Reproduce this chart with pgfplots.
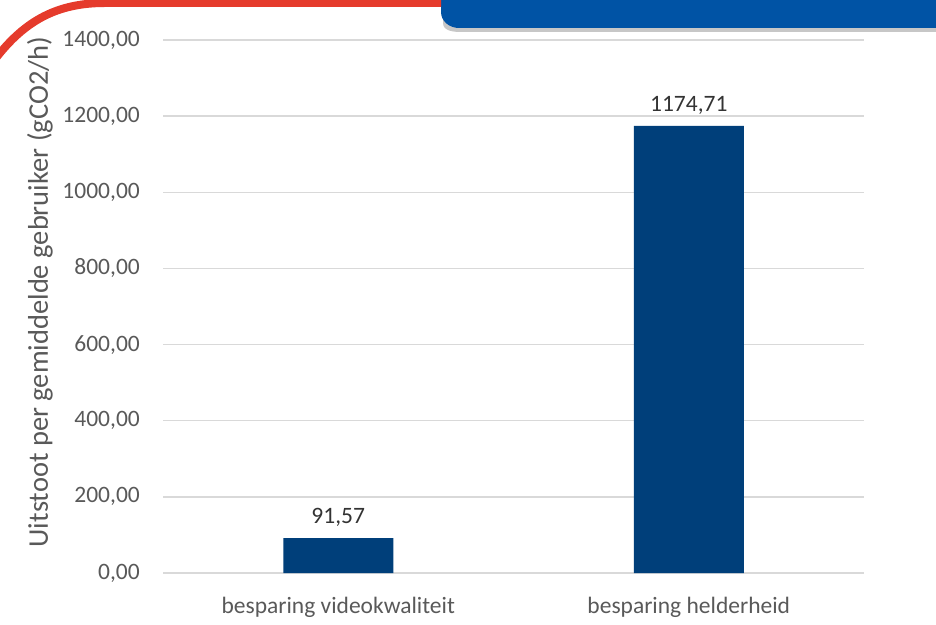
\documentclass[border=0pt]{standalone}
\usepackage{pgfplots}
\pgfplotsset{compat=1.18}
\usepackage{fontspec}
\setmainfont{Carlito}
\definecolor{txt}{HTML}{595959}
\definecolor{gridc}{HTML}{D9D9D9}
\definecolor{barc}{HTML}{003F7A}
\definecolor{redc}{HTML}{E53B2C}
\definecolor{bluec}{HTML}{0053A5}
\begin{document}
\begin{tikzpicture}
\useasboundingbox (0pt,0pt) rectangle (936pt,624pt);
% decorations
\fill[black!22] (443pt,624pt) -- (443pt,601pt) to[out=-90,in=180] (461pt,592pt) -- (936pt,592pt) -- (936pt,624pt) -- cycle;
\fill[bluec] (441pt,626pt) -- (441pt,612pt) to[out=-90,in=180] (459pt,596pt) -- (936pt,596pt) -- (936pt,626pt) -- cycle;
\draw[redc, line width=8pt] (-4pt,566pt) to[out=52,in=180] (105pt,621pt) -- (441pt,621pt);
\begin{axis}[
  at={(163pt,51pt)}, anchor=south west,
  scale only axis, width=701pt, height=533pt,
  xmin=-0.5, xmax=1.5, ymin=0, ymax=1400,
  xtick=data, xticklabels={besparing videokwaliteit, besparing helderheid},
  ytick={0,200,...,1400},
  ymajorgrids, grid style={gridc, line width=1.3pt},
  axis line style={draw=none}, tick style={draw=none},
  font=\fontsize{23.5}{28}\selectfont, every tick label/.append style={txt},
  /pgf/number format/assume math mode=true,
  /pgf/number format/.cd, fixed, fixed zerofill, precision=2, use comma, 1000 sep={},
  /pgfplots/.cd,
  yticklabel style={inner sep=0pt, xshift=-23pt},
  xticklabel style={inner sep=0pt, yshift=-20pt},
  ylabel={Uitstoot per gemiddelde gebruiker (gCO2/h)},
  ylabel style={at={(axis description cs:-0.1755,0.527)}, anchor=center, txt, font=\fontsize{28.5}{32}\selectfont},
  ybar, bar width=110pt,
  nodes near coords, nodes near coords style={font=\fontsize{23.5}{28}\selectfont, color=black!80, yshift=8pt},
]
\addplot[fill=barc, draw=none] coordinates {(0,91.57) (1,1174.71)};
\end{axis}
\end{tikzpicture}
\end{document}
